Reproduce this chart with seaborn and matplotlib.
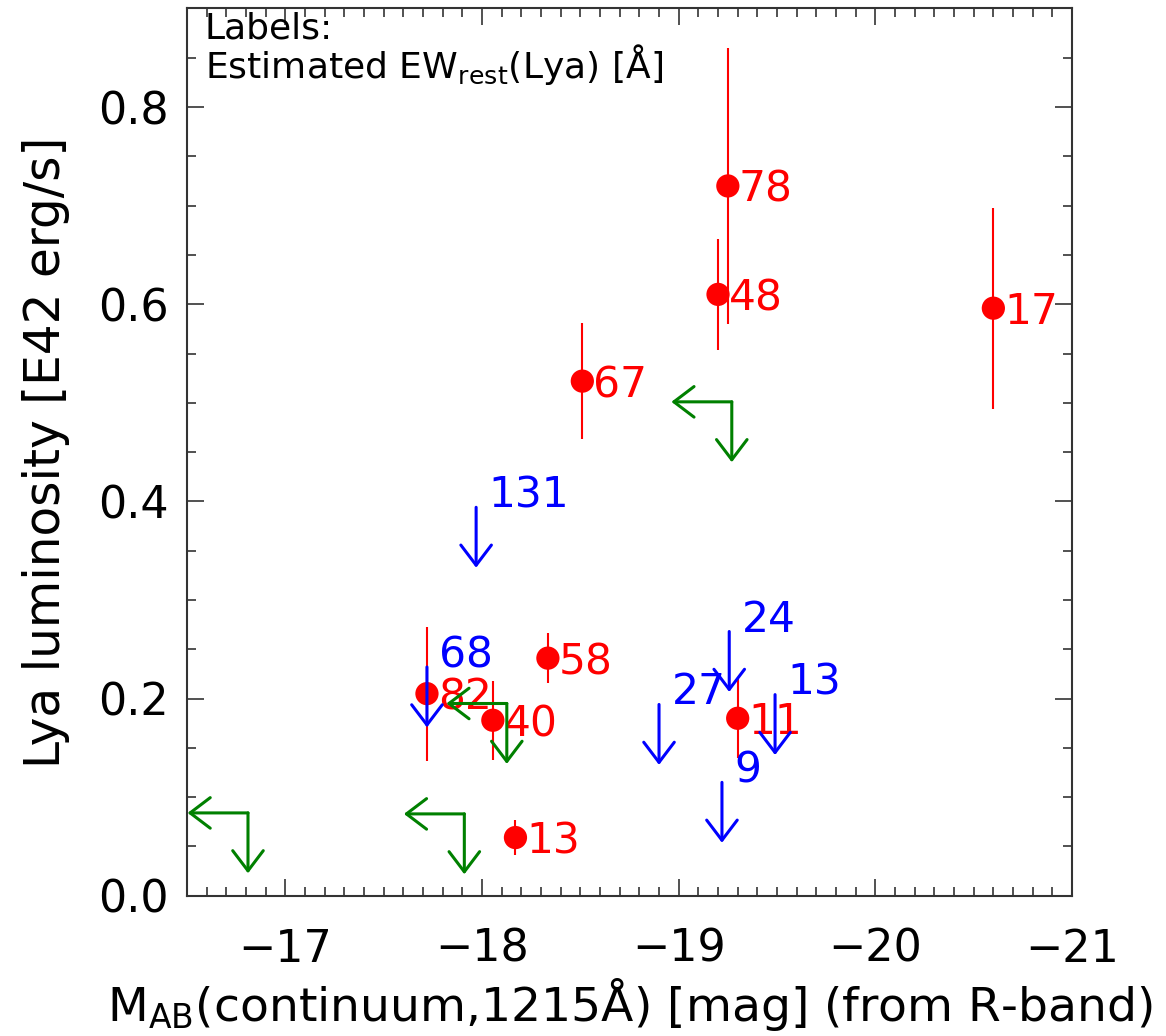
import numpy as np
import matplotlib
matplotlib.use("Agg")
import matplotlib.pyplot as plt
import seaborn as sns

# ---- data ----
red_x = [-19.25, -19.20, -20.60, -18.51, -18.335, -17.72, -18.055, -18.17, -19.30]
red_y = [0.720, 0.610, 0.596, 0.522, 0.241, 0.205, 0.178, 0.059, 0.180]
red_err = [0.140, 0.056, 0.102, 0.059, 0.025, 0.068, 0.040, 0.018, 0.040]
red_labels = ["78", "48", "17", "67", "58", "82", "40", "13", "11"]

blue_x = [-17.97, -17.72, -18.90, -19.257, -19.49, -19.22]
blue_y = [0.394, 0.232, 0.194, 0.268, 0.204, 0.115]
blue_labels = ["131", "68", "27", "24", "13", "9"]

green_x = [-19.27, -18.126, -17.91, -16.81]
green_y = [0.501, 0.195, 0.083, 0.084]

x_ticks = [-17, -18, -19, -20, -21]
y_ticks = [0.0, 0.2, 0.4, 0.6, 0.8]

sns.set_style("ticks")
FONT = "DejaVu Sans"
plt.rcParams["font.family"] = [FONT]
plt.rcParams["text.color"] = "black"
plt.rcParams["axes.labelcolor"] = "black"
plt.rcParams["xtick.color"] = "black"
plt.rcParams["ytick.color"] = "black"

fig = plt.figure(figsize=(11.66, 10.36), dpi=100)
ax = fig.add_axes([0.1604, 0.1354, 0.7590, 0.8564])

RED = "#ff0000"
BLUE = "#0000ff"
GREEN = "#008000"

# error bars and points
ax.errorbar(red_x, red_y, yerr=red_err, fmt="none", ecolor=RED,
            elinewidth=1.5, capsize=0, zorder=2)
sns.scatterplot(x=red_x, y=red_y, color=RED, s=280, edgecolor="none",
                ax=ax, zorder=3, legend=False)
for x, y, lab in zip(red_x, red_y, red_labels):
    ax.annotate(lab, xy=(x, y), xytext=(8, -11.5), textcoords="offset points",
                ha="left", va="baseline", color=RED, fontsize=30.5)

ARROW_LEN = 43.5  # points
head = "<-,head_length=1.45,head_width=1.1"

# blue upper limits (down arrows)
for x, y, lab in zip(blue_x, blue_y, blue_labels):
    ax.annotate("", xy=(x, y), xytext=(0, -ARROW_LEN), textcoords="offset points",
                arrowprops=dict(arrowstyle=head, color=BLUE, lw=2.2,
                                shrinkA=0, shrinkB=0), zorder=4)
    ax.annotate(lab, xy=(x, y), xytext=(9, 0), textcoords="offset points",
                ha="left", va="baseline", color=BLUE, fontsize=30.5)

# green limits (left + down arrows)
for x, y in zip(green_x, green_y):
    ax.annotate("", xy=(x, y), xytext=(0, -ARROW_LEN), textcoords="offset points",
                arrowprops=dict(arrowstyle=head, color=GREEN, lw=2.2,
                                shrinkA=0, shrinkB=0), zorder=4)
    ax.annotate("", xy=(x, y), xytext=(-ARROW_LEN, 0), textcoords="offset points",
                arrowprops=dict(arrowstyle=head, color=GREEN, lw=2.2,
                                shrinkA=0, shrinkB=0), zorder=4)

# axes
ax.set_xlim(-16.5, -21)
ax.set_ylim(0, 0.9)
ax.set_xticks(x_ticks)
ax.set_xticklabels([f"\u2212{abs(v)}" for v in x_ticks])
ax.set_yticks(y_ticks)
ax.set_yticklabels([f"{v:.1f}" for v in y_ticks])
ax.set_xticks(np.arange(-16.5, -21.05, -0.1), minor=True)
ax.set_yticks(np.arange(0, 0.901, 0.05), minor=True)

ax.tick_params(which="both", direction="in", top=True, right=True,
               width=1.1, color="#222222")
ax.tick_params(which="major", length=12.5, labelsize=32)
ax.tick_params(which="minor", length=6.5)
ax.tick_params(axis="x", which="major", pad=23)
ax.tick_params(axis="y", which="major", pad=13)
for s in ax.spines.values():
    s.set_linewidth(1.5)
    s.set_color("#333333")

ax.set_xlabel(r"$\mathregular{M_{AB}}$(continuum,1215Å) [mag] (from R-band)",
              fontsize=34, labelpad=4)
ax.set_ylabel("Lya luminosity [E42 erg/s]", fontsize=35, labelpad=20)

# legend note (one two-line text; baseline refers to the last line)
ax.text(0.02, 0.9214,
        "Labels:\n" + r"Estimated $\mathregular{EW_{rest}}$(Lya) [Å]",
        transform=ax.transAxes, ha="left", va="baseline", fontsize=26,
        linespacing=0.9)

fig.savefig("out.png", dpi=100)
